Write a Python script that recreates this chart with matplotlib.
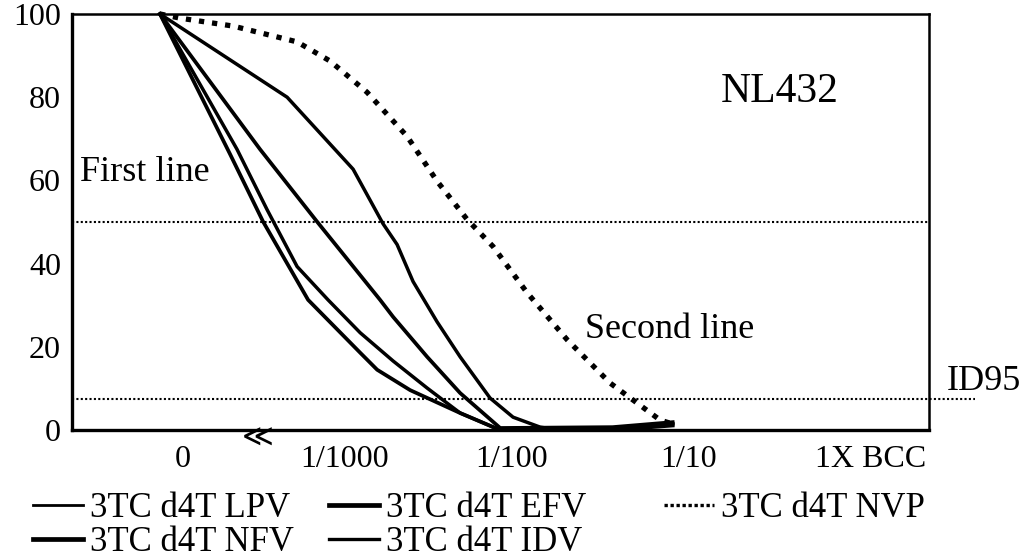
import numpy as np
import matplotlib.pyplot as plt
from matplotlib.lines import Line2D

plt.rcParams['font.family'] = ['Liberation Serif', 'DejaVu Sans']

# x axis: drug dilution (position along the broken log axis)
dose_labels = ['0', '1/1000', '1/100', '1/10', '1X BCC']
dose_pos = [0.0, 0.943, 1.91, 2.94, 4.0]
y_ticks = [0, 20, 40, 60, 80, 100]

# % virus replication
lpv_x = [-0.134, 0.606, 0.990, 1.164, 1.246, 1.339, 1.479, 1.613, 1.787, 1.921, 2.079, 2.195, 2.5, 2.85]
lpv_y = [100, 80.0, 62.7, 49.6, 44.6, 35.7, 26.0, 17.6, 7.7, 3.1, 0.7, 0.0, 0.3, 1.5]

efv_x = [-0.134, 0.448, 0.780, 1.147, 1.223, 1.421, 1.613, 1.846, 2.5, 2.85]
efv_y = [100, 67.5, 50.1, 31.3, 27.2, 17.6, 8.9, 0.5, 0.7, 1.9]

nfv_x = [-0.134, 0.274, 0.466, 0.728, 1.031, 1.130, 1.322, 1.613, 1.846, 2.5, 2.85]
nfv_y = [100, 66.3, 50.1, 31.3, 18.6, 14.5, 9.6, 4.1, 0.0, 0.0, 1.1]

idv_x = [-0.134, 0.314, 0.489, 0.664, 0.844, 1.031, 1.223, 1.421, 1.613, 1.846, 2.5, 2.85]
idv_y = [100, 67.5, 53.0, 39.3, 31.3, 23.4, 16.6, 10.1, 4.1, 0.0, 0.4, 1.5]

nvp_x = [-0.134, -0.017, 0.291, 0.664, 0.856, 1.071, 1.304, 1.479, 1.654, 1.805, 2.003, 2.236, 2.486, 2.643, 2.777, 2.847]
nvp_y = [100, 99.0, 97.1, 93.3, 88.7, 81.2, 70.6, 59.8, 50.6, 44.1, 33.0, 21.7, 11.3, 6.5, 2.4, 1.5]

first_line = 50
id95_line = 7.5

fig = plt.figure(figsize=(10.29, 5.6), dpi=100)
ax = fig.add_axes([0.070, 0.232, 0.833, 0.743])

ax.plot(lpv_x, lpv_y, color='black', lw=2.5, clip_on=False)
ax.plot(efv_x, efv_y, color='black', lw=2.7, clip_on=False)
ax.plot(nfv_x, nfv_y, color='black', lw=2.7, clip_on=False)
ax.plot(idv_x, idv_y, color='black', lw=2.5, clip_on=False)
ax.plot(nvp_x, nvp_y, color='black', lw=3.8, linestyle=(0, (1, 1.5)), clip_on=False)

# reference lines
ax.axhline(first_line, color='black', lw=1.5, linestyle=(0, (1, 1.1)))
ax.plot([-0.646, 4.61], [id95_line, id95_line], color='black', lw=1.5,
        linestyle=(0, (1, 1.1)), clip_on=False)

ax.set_xlim(-0.646, 4.343)
ax.set_ylim(0, 100)
ax.set_xticks(dose_pos, dose_labels)
ax.set_yticks(y_ticks)
ax.tick_params(length=0, labelsize=23)
ax.tick_params(axis='x', pad=11)
ax.tick_params(axis='y', pad=8)

for side in ['left', 'bottom']:
    ax.spines[side].set_linewidth(2.4)
for side in ['top', 'right']:
    ax.spines[side].set_linewidth(1.8)

ax.text(-0.60, 59.8, 'First line', fontsize=26, va='baseline')
ax.text(2.34, 22.2, 'Second line', fontsize=26, va='baseline')
ax.text(3.127, 78.8, 'NL432', fontsize=30, va='baseline')
ax.text(4.448, 9.6, 'ID95', fontsize=26, va='baseline', clip_on=False)
ax.text(0.437, -2.0, '\u226a', fontsize=22, ha='center', va='center',
        family=['DejaVu Sans'], clip_on=False)

h_lpv = Line2D([], [], color='black', lw=2.0)
h_efv = Line2D([], [], color='black', lw=3.4)
h_nfv = Line2D([], [], color='black', lw=3.4)
h_idv = Line2D([], [], color='black', lw=2.4)
h_nvp = Line2D([], [], color='black', lw=2.4, linestyle=(0, (1, 0.8)))

leg_kw = dict(frameon=False, fontsize=25, handlelength=1.45, handletextpad=0.2,
              columnspacing=1.0, borderpad=0, borderaxespad=0, labelspacing=0.04)
fig.legend([h_lpv, h_nfv, h_efv, h_idv],
           ['3TC d4T LPV', '3TC d4T NFV', '3TC d4T EFV', '3TC d4T IDV'],
           loc='upper left', bbox_to_anchor=(0.032, 0.122), ncol=2, **leg_kw)
fig.legend([h_nvp], ['3TC d4T NVP'],
           loc='upper left', bbox_to_anchor=(0.645, 0.122), **leg_kw)

fig.savefig('out.png', dpi=100)
